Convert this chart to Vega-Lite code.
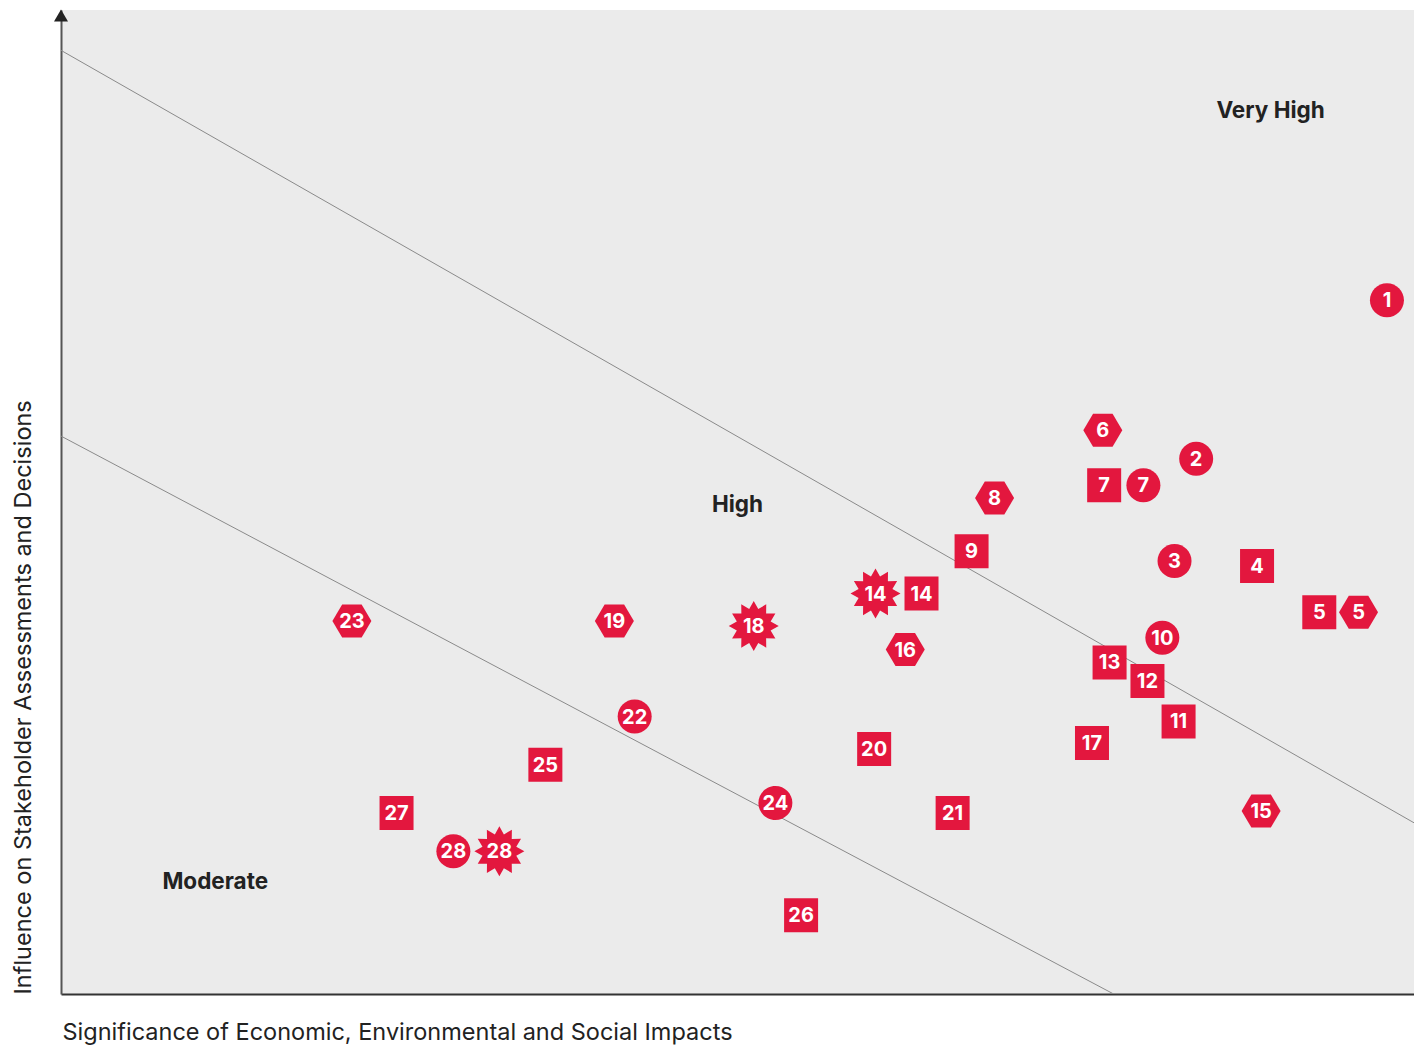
{
  "$schema": "https://vega.github.io/schema/vega-lite/v6.json",
  "width": 1353,
  "height": 984,
  "autosize": {"type": "none"},
  "padding": {"left": 61, "top": 10, "right": 0, "bottom": 52},
  "background": "white",
  "config": {
    "font": "Inter",
    "view": {"fill": "#ebebeb", "stroke": null}
  },
  "datasets": {
    "items": [
      {"label": "1", "type": "circle", "impact": 98.0, "influence": 70.5},
      {"label": "2", "type": "circle", "impact": 83.9, "influence": 54.4},
      {"label": "3", "type": "circle", "impact": 82.3, "influence": 44.0},
      {"label": "4", "type": "square", "impact": 88.4, "influence": 43.5},
      {"label": "5", "type": "square", "impact": 93.0, "influence": 38.8},
      {"label": "5", "type": "hexagon", "impact": 95.9, "influence": 38.8},
      {"label": "6", "type": "hexagon", "impact": 77.0, "influence": 57.3},
      {"label": "7", "type": "square", "impact": 77.1, "influence": 51.7},
      {"label": "7", "type": "circle", "impact": 80.0, "influence": 51.7},
      {"label": "8", "type": "hexagon", "impact": 69.0, "influence": 50.4},
      {"label": "9", "type": "square", "impact": 67.3, "influence": 45.0},
      {"label": "10", "type": "circle", "impact": 81.4, "influence": 36.2},
      {"label": "11", "type": "square", "impact": 82.6, "influence": 27.7},
      {"label": "12", "type": "square", "impact": 80.3, "influence": 31.8},
      {"label": "13", "type": "square", "impact": 77.5, "influence": 33.7},
      {"label": "14", "type": "star", "impact": 60.2, "influence": 40.7},
      {"label": "14", "type": "square", "impact": 63.6, "influence": 40.7},
      {"label": "15", "type": "hexagon", "impact": 88.7, "influence": 18.6},
      {"label": "16", "type": "hexagon", "impact": 62.4, "influence": 35.0},
      {"label": "17", "type": "square", "impact": 76.2, "influence": 25.5},
      {"label": "18", "type": "star", "impact": 51.2, "influence": 37.4},
      {"label": "19", "type": "hexagon", "impact": 40.9, "influence": 37.9},
      {"label": "20", "type": "square", "impact": 60.1, "influence": 24.9},
      {"label": "21", "type": "square", "impact": 65.9, "influence": 18.4},
      {"label": "22", "type": "circle", "impact": 42.4, "influence": 28.2},
      {"label": "23", "type": "hexagon", "impact": 21.5, "influence": 37.9},
      {"label": "24", "type": "circle", "impact": 52.8, "influence": 19.4},
      {"label": "25", "type": "square", "impact": 35.8, "influence": 23.3},
      {"label": "26", "type": "square", "impact": 54.7, "influence": 8.0},
      {"label": "27", "type": "square", "impact": 24.8, "influence": 18.4},
      {"label": "28", "type": "circle", "impact": 29.0, "influence": 14.5},
      {"label": "28", "type": "star", "impact": 32.4, "influence": 14.5}
    ],
    "bands": [
      {"line": "upper", "impact": 0, "influence": 95.9},
      {"line": "upper", "impact": 100, "influence": 17.4},
      {"line": "lower", "impact": 0, "influence": 56.7},
      {"line": "lower", "impact": 77.8, "influence": 0}
    ],
    "zones": [
      {"zone": "Very High", "impact": 89.4, "influence": 89.7},
      {"zone": "High", "impact": 50.0, "influence": 49.7},
      {"zone": "Moderate", "impact": 11.4, "influence": 11.4}
    ],
    "arrow": [
      {"impact": 0, "influence": 99.44}
    ]
  },
  "encoding": {
    "x": {
      "field": "impact", "type": "quantitative",
      "scale": {"domain": [0, 100], "nice": false, "zero": false},
      "axis": {
        "title": "Significance of Economic, Environmental and Social Impacts",
        "domain": true, "domainColor": "#333333", "domainWidth": 2,
        "ticks": false, "labels": false, "grid": false,
        "titleFont": "Inter", "titleFontSize": 23.5, "titleFontWeight": "normal", "titleColor": "#222222",
        "titleAlign": "left", "titleBaseline": "alphabetic", "titleX": 1, "titleY": 45
      }
    },
    "y": {
      "field": "influence", "type": "quantitative",
      "scale": {"domain": [0, 100], "nice": false, "zero": false},
      "axis": {
        "title": "Influence on Stakeholder Assessments and Decisions",
        "domain": true, "domainColor": "#555555", "domainWidth": 2,
        "ticks": false, "labels": false, "grid": false,
        "titleFont": "Inter", "titleFontSize": 23.5, "titleFontWeight": "normal", "titleColor": "#222222",
        "titleAngle": -90, "titleAlign": "left", "titleBaseline": "alphabetic", "titleX": -31, "titleY": 984
      }
    }
  },
  "layer": [
    {
      "data": {"name": "bands"},
      "mark": {"type": "line", "color": "#8a8a8a", "strokeWidth": 1, "clip": true},
      "encoding": {"detail": {"field": "line", "type": "nominal"}}
    },
    {
      "data": {"name": "arrow"},
      "mark": {"type": "point", "shape": "triangle-up", "filled": true, "color": "#222222", "size": 196, "opacity": 1}
    },
    {
      "data": {"name": "zones"},
      "mark": {"type": "text", "font": "Inter", "fontSize": 22.5, "fontWeight": "bold", "color": "#222222", "align": "center", "baseline": "middle"},
      "encoding": {"text": {"field": "zone", "type": "nominal"}}
    },
    {
      "data": {"name": "items"},
      "mark": {"type": "point", "filled": true, "color": "#e3173e", "opacity": 1, "size": 2500, "strokeWidth": 0},
      "encoding": {
        "shape": {
          "field": "type", "type": "nominal", "legend": null,
          "scale": {
            "domain": ["circle", "square", "hexagon", "star"],
            "range": [
              "M0.68,0A0.68,0.68,0,1,1,-0.68,0A0.68,0.68,0,1,1,0.68,0Z",
              "M-0.68,-0.68H0.68V0.68H-0.68Z",
              "M-0.78,0L-0.39,-0.66L0.39,-0.66L0.78,0L0.39,0.66L-0.39,0.66Z",
              "M0,-1L0.181,-0.676L0.5,-0.866L0.495,-0.495L0.866,-0.5L0.676,-0.181L1,0L0.676,0.181L0.866,0.5L0.495,0.495L0.5,0.866L0.181,0.676L0,1L-0.181,0.676L-0.5,0.866L-0.495,0.495L-0.866,0.5L-0.676,0.181L-1,0L-0.676,-0.181L-0.866,-0.5L-0.495,-0.495L-0.5,-0.866L-0.181,-0.676Z"
            ]
          }
        }
      }
    },
    {
      "data": {"name": "items"},
      "mark": {"type": "text", "font": "Inter", "fontSize": 20, "fontWeight": "bold", "color": "white", "align": "center", "baseline": "middle", "dy": 1},
      "encoding": {"text": {"field": "label", "type": "nominal"}}
    }
  ]
}
